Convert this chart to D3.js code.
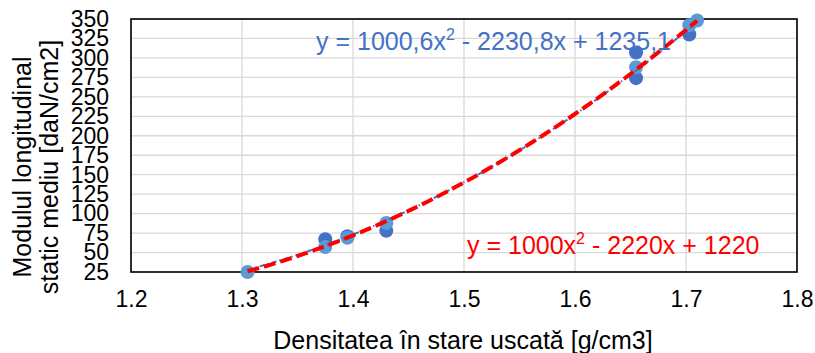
<!DOCTYPE html>
<html>
<head>
<meta charset="utf-8">
<script src="https://cdn.jsdelivr.net/npm/d3@7"></script>
<style>
  html, body { margin: 0; padding: 0; background: #fff; }
  svg { display: block; font-family: "Liberation Sans", Arial, sans-serif; }
</style>
</head>
<body>
<svg id="chart" width="815" height="353"></svg>
<script>
// Measured samples: dry density [g/cm3] vs static longitudinal modulus [daN/cm2]
const seriesAX = [1.375, 1.395, 1.43, 1.655, 1.655, 1.703];
const seriesAY = [67, 71, 78, 307, 274, 330];
const seriesBX = [1.305, 1.375, 1.395, 1.43, 1.655, 1.703, 1.71];
const seriesBY = [25, 57, 69, 88, 288, 342, 348];

// Quadratic trendlines (coefficients a, b, c of a*x^2 + b*x + c)
const fitBlue = [1000.6, -2230.8, 1235.1];
const fitRed = [1000, -2220, 1220];
const fitRange = [1.305, 1.71];

const xTicks = [1.2, 1.3, 1.4, 1.5, 1.6, 1.7, 1.8];
const yTicks = [25, 50, 75, 100, 125, 150, 175, 200, 225, 250, 275, 300, 325, 350];

const svg = d3.select("#chart");
const plotL = 131, plotR = 797, plotT = 19, plotB = 272;

const x = d3.scaleLinear().domain([1.2, 1.8]).range([plotL, plotR]);
const y = d3.scaleLinear().domain([25, 350]).range([plotB, plotT]);

// grid
svg.append("g").selectAll("line").data(yTicks).join("line")
  .attr("x1", plotL).attr("x2", plotR)
  .attr("y1", d => y(d)).attr("y2", d => y(d))
  .attr("stroke", "#d9d9d9").attr("stroke-width", 1.3);
svg.append("g").selectAll("line").data(xTicks).join("line")
  .attr("y1", plotT).attr("y2", plotB)
  .attr("x1", d => x(d)).attr("x2", d => x(d))
  .attr("stroke", "#d9d9d9").attr("stroke-width", 1.3);

// axes (labels only)
const xAxis = svg.append("g").attr("transform", `translate(0,${plotB})`)
  .call(d3.axisBottom(x).tickValues(xTicks).tickSize(0).tickPadding(19)
    .tickFormat(d3.format(".1f")));
const yAxis = svg.append("g").attr("transform", `translate(${plotL},0)`)
  .call(d3.axisLeft(y).tickValues(yTicks).tickSize(0).tickPadding(22));
[xAxis, yAxis].forEach(g => {
  g.select(".domain").remove();
  g.selectAll("text").attr("font-size", 23).attr("fill", "#000")
    .attr("font-family", "Liberation Sans, Arial, sans-serif");
});

// plot frame
svg.append("rect").attr("x", plotL).attr("y", plotT)
  .attr("width", plotR - plotL).attr("height", plotB - plotT)
  .attr("fill", "none").attr("stroke", "#000").attr("stroke-width", 1.6);

// markers
const ptsA = seriesAX.map((v, i) => [v, seriesAY[i]]);
const ptsB = seriesBX.map((v, i) => [v, seriesBY[i]]);
svg.append("g").selectAll("circle").data(ptsA).join("circle")
  .attr("cx", d => x(d[0])).attr("cy", d => y(d[1])).attr("r", 7)
  .attr("fill", "#4472c4");
svg.append("g").selectAll("circle").data(ptsB).join("circle")
  .attr("cx", d => x(d[0])).attr("cy", d => y(d[1])).attr("r", 7)
  .attr("fill", "#5b9bd5");

// trendlines
const poly = c => v => c[0] * v * v + c[1] * v + c[2];
const xs = d3.range(fitRange[0], fitRange[1] + 1e-9, (fitRange[1] - fitRange[0]) / 80);
const line = d3.line().x(d => x(d[0])).y(d => y(d[1]));
svg.append("path").datum(xs.map(v => [v, poly(fitBlue)(v)]))
  .attr("d", line).attr("fill", "none").attr("stroke", "#4472c4")
  .attr("stroke-width", 2).attr("stroke-dasharray", "5,3,1.5,3");
svg.append("path").datum(xs.map(v => [v, poly(fitRed)(v)]))
  .attr("d", line).attr("fill", "none").attr("stroke", "#ff0000")
  .attr("stroke-width", 4).attr("stroke-dasharray", "12,5");

// trendline equations
function equation(tx, ty, color, parts) {
  const t = svg.append("text").attr("x", tx).attr("y", ty)
    .attr("font-size", 25).attr("fill", color);
  t.append("tspan").text(parts[0]);
  t.append("tspan").attr("font-size", 16).attr("dy", -10).text("2");
  t.append("tspan").attr("dy", 10).text(parts[1]);
}
equation(316, 50, "#4472c4", ["y = 1000,6x", " - 2230,8x + 1235,1"]);
equation(467, 254, "#ff0000", ["y = 1000x", " - 2220x + 1220"]);

// axis titles
svg.append("text").attr("x", 463).attr("y", 349)
  .attr("text-anchor", "middle").attr("font-size", 25)
  .text("Densitatea în stare uscată [g/cm3]");
const yt = svg.append("text").attr("transform", "translate(0,167) rotate(-90)")
  .attr("text-anchor", "middle").attr("font-size", 25);
yt.append("tspan").attr("x", 0).attr("y", 31).text("Modulul longitudinal");
yt.append("tspan").attr("x", 0).attr("y", 58).text("static mediu [daN/cm2]");
</script>
</body>
</html>
